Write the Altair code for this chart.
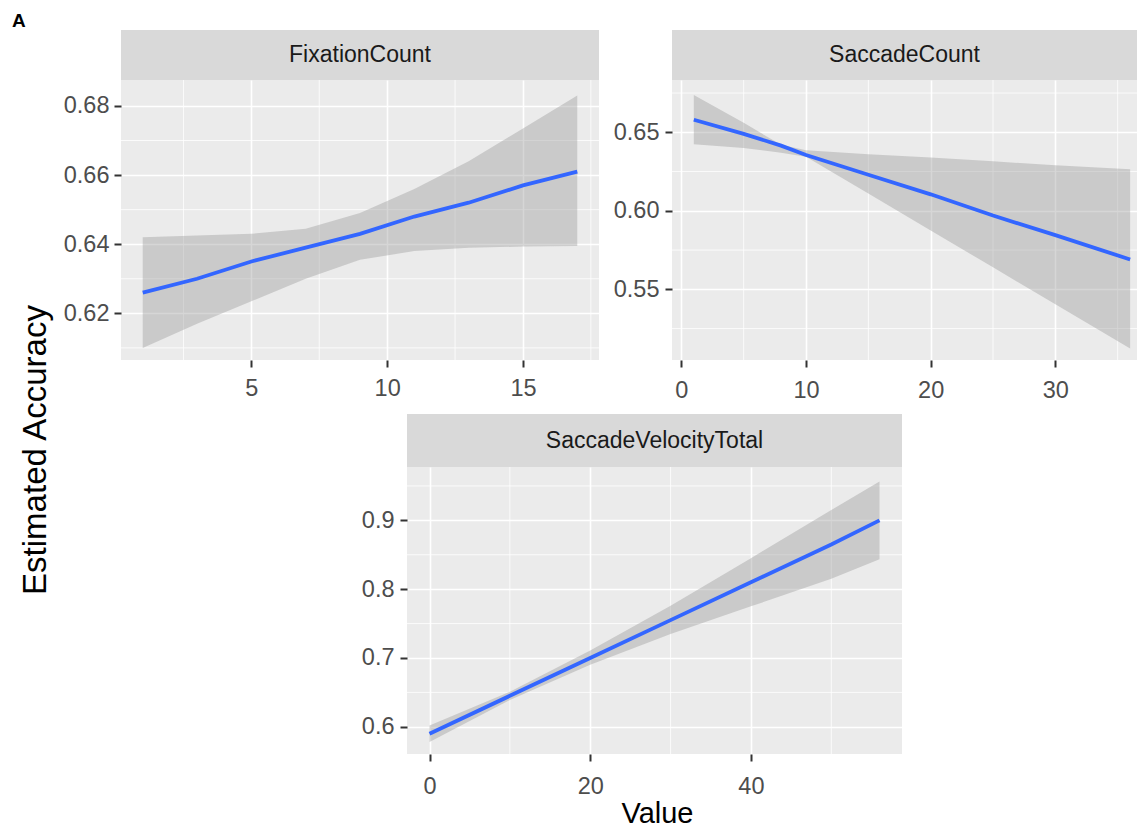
import altair as alt
import pandas as pd

FONT = "Liberation Sans"

# ---- data ----
fix_x = [1, 3, 5, 7, 9, 11, 13, 15, 17]
fix_fit = [0.626, 0.630, 0.635, 0.639, 0.643, 0.648, 0.652, 0.657, 0.661]
fix_lo = [0.610, 0.617, 0.6235, 0.630, 0.6355, 0.638, 0.639, 0.6393, 0.6395]
fix_hi = [0.642, 0.6425, 0.643, 0.6445, 0.649, 0.656, 0.664, 0.6735, 0.683]

sac_x = [1, 5, 8, 10, 15, 20, 25, 30, 36]
sac_fit = [0.658, 0.649, 0.6415, 0.6355, 0.623, 0.6105, 0.597, 0.5845, 0.569]
sac_lo = [0.6424, 0.640, 0.637, 0.6345, 0.611, 0.5875, 0.564, 0.5405, 0.5124]
sac_hi = [0.6738, 0.656, 0.642, 0.6385, 0.636, 0.634, 0.6315, 0.629, 0.6264]

svt_x = [0, 10, 20, 30, 40, 50, 56]
svt_fit = [0.590, 0.645, 0.700, 0.755, 0.810, 0.865, 0.900]
svt_lo = [0.578, 0.639, 0.690, 0.735, 0.775, 0.815, 0.8435]
svt_hi = [0.602, 0.651, 0.711, 0.776, 0.845, 0.915, 0.9565]

fix_xmajor = [5, 10, 15]
fix_xminor = [2.5, 7.5, 12.5, 17.5]
fix_ymajor = [0.62, 0.64, 0.66, 0.68]
fix_yminor = [0.61, 0.63, 0.65, 0.67]

sac_xmajor = [0, 10, 20, 30]
sac_xminor = [5, 15, 25, 35]
sac_ymajor = [0.55, 0.60, 0.65]
sac_yminor = [0.525, 0.575, 0.625, 0.675]

svt_xmajor = [0, 20, 40]
svt_xminor = [10, 30, 50]
svt_ymajor = [0.6, 0.7, 0.8, 0.9]
svt_yminor = [0.65, 0.75, 0.85, 0.95]

LABEL_SIZE = 23.5


def panel(name, xs, fit, lo, hi, xdom, ydom, xmaj, xmin, ymaj, ymin, yfmt,
          w, h, strip_h, xlabpad, ylabpad, xtitle=None, extra=None):
    df = pd.DataFrame({"x": xs, "fit": fit, "lo": lo, "hi": hi})
    xscale = alt.Scale(domain=xdom, nice=False, zero=False)
    yscale = alt.Scale(domain=ydom, nice=False, zero=False)
    xkw = dict(values=xmaj, grid=True, gridColor="white", gridWidth=1.6,
               domain=False, tickColor="#333333", tickWidth=2, tickSize=7,
               labelFontSize=LABEL_SIZE, labelColor="#4D4D4D", labelFont=FONT,
               labelPadding=xlabpad, labelFlush=False, labelOverlap=False)
    if xtitle:
        xkw.update(title=xtitle["text"], titleX=xtitle["x"], titleY=xtitle["y"],
                   titleAlign="center", titleBaseline="alphabetic",
                   titleFontSize=29, titleFont=FONT, titleFontWeight="normal",
                   titleColor="black")
    else:
        xkw.update(title=None)
    ykw = dict(values=ymaj, format=yfmt, grid=True, gridColor="white", gridWidth=1.6,
               domain=False, tickColor="#333333", tickWidth=2, tickSize=7,
               labelFontSize=LABEL_SIZE, labelColor="#4D4D4D", labelFont=FONT,
               labelPadding=ylabpad, labelFlush=False, labelOverlap=False,
               title=None)
    xaxis = alt.Axis(**xkw)
    yaxis = alt.Axis(**ykw)

    vminor = alt.Chart(pd.DataFrame({"x": xmin})).mark_rule(
        color="white", strokeWidth=0.8).encode(
        x=alt.X("x:Q", scale=xscale, axis=xaxis))
    hminor = alt.Chart(pd.DataFrame({"lo": ymin})).mark_rule(
        color="white", strokeWidth=0.8).encode(
        y=alt.Y("lo:Q", scale=yscale, axis=yaxis))
    area = alt.Chart(df).mark_area(color="#999999", opacity=0.4).encode(
        x=alt.X("x:Q", scale=xscale, axis=xaxis),
        y=alt.Y("lo:Q", scale=yscale, axis=yaxis),
        y2="hi:Q",
    )
    line = alt.Chart(df).mark_line(color="#3366FF", strokeWidth=3.8).encode(
        x=alt.X("x:Q", scale=xscale, axis=xaxis),
        y=alt.Y("fit:Q", scale=yscale, axis=yaxis),
    )

    # facet strip drawn above the panel
    sdf = pd.DataFrame({"label": [name]})
    strip_bg = alt.Chart(sdf).mark_rect(color="#D9D9D9").encode(
        x=alt.value(0), x2=alt.value(w), y=alt.value(-strip_h), y2=alt.value(0))
    strip_txt = alt.Chart(sdf).mark_text(
        fontSize=23, font=FONT, color="#1A1A1A", baseline="middle", align="center"
    ).encode(text="label:N", x=alt.value(w / 2), y=alt.value(-strip_h / 2))

    layers = [vminor, hminor, area, line, strip_bg, strip_txt]
    if extra is not None:
        layers.append(extra)
    return alt.layer(*layers).properties(
        width=w, height=h,
        view=alt.ViewBackground(fill="#EBEBEB", strokeWidth=0),
    )


label_a = alt.Chart(pd.DataFrame({"t": ["A"]})).mark_text(
    fontSize=19, fontWeight="bold", font=FONT, color="black",
    align="left", baseline="alphabetic"
).encode(text="t:N", x=alt.value(-109), y=alt.value(-53))

p1 = panel("FixationCount", fix_x, fix_fit, fix_lo, fix_hi,
           [0.2, 17.8], [0.6065, 0.6875], fix_xmajor, fix_xminor,
           fix_ymajor, fix_yminor, ".2f", 478, 280, 50, 9, 5,
           extra=label_a)
p2 = panel("SaccadeCount", sac_x, sac_fit, sac_lo, sac_hi,
           [-0.75, 36.55], [0.505, 0.6833], sac_xmajor, sac_xminor,
           sac_ymajor, sac_yminor, ".2f", 465, 280, 50, 11, 6)
p3 = panel("SaccadeVelocityTotal", svt_x, svt_fit, svt_lo, svt_hi,
           [-2.8, 58.8], [0.5605, 0.9775], svt_xmajor, svt_xminor,
           svt_ymajor, svt_yminor, ".1f", 495, 287, 53, 13, 6,
           xtitle={"text": "Value", "x": 250, "y": 68})

spacer = alt.Chart(pd.DataFrame({"a": [0]})).mark_point(opacity=0, size=4).encode(
    x=alt.value(20), y=alt.value(20)
).properties(width=286, height=40, view=alt.ViewBackground(strokeWidth=0))

row1 = alt.hconcat(p1, p2, spacing=73, bounds="flush")
row3 = alt.hconcat(spacer, p3, spacing=0, bounds="flush")

chart = alt.vconcat(row1, row3, spacing=12).properties(
    title=alt.TitleParams(
        text="Estimated Accuracy", orient="left", anchor="middle", frame="bounds",
        offset=-41, dx=-30, fontSize=33, font=FONT, fontWeight="normal", color="black",
    ),
    padding={"left": 4, "top": 4, "right": 0, "bottom": 0},
    background="white",
).configure_view(strokeWidth=0).configure(font=FONT)

chart.save("out.html", embed_options={"renderer": "svg", "actions": False})
